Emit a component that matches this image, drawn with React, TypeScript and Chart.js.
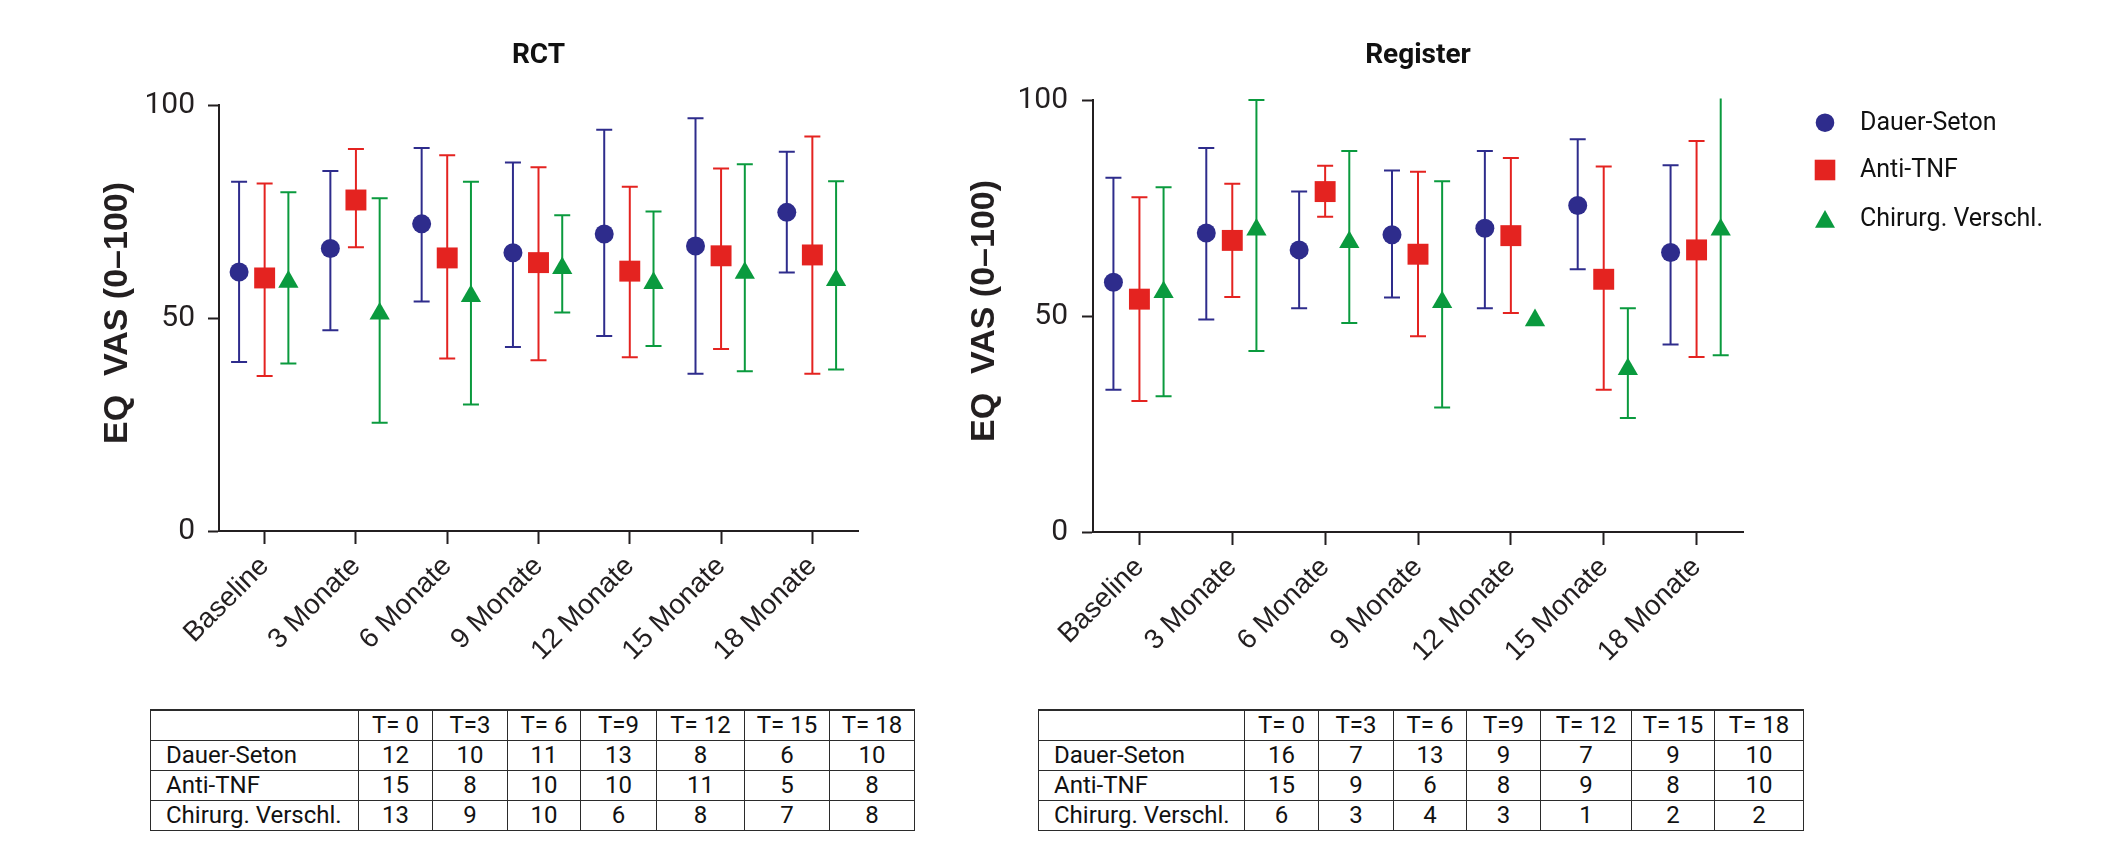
import React, { useEffect, useRef } from 'react';
import { Chart, registerables } from 'chart.js';

Chart.register(...registerables);

// ---------- data ----------
const categories = ['Baseline', '3 Monate', '6 Monate', '9 Monate', '12 Monate', '15 Monate', '18 Monate'];
const seriesNames = ['Dauer-Seton', 'Anti-TNF', 'Chirurg. Verschl.'];
const yTicks = [0, 50, 100];
const yAxisTitle = 'EQ  VAS (0–100)';
const tableHeaders = ['T= 0', 'T=3', 'T= 6', 'T=9', 'T= 12', 'T= 15', 'T= 18'];

// RCT
const rctDauerMean = [60.8, 66.3, 72.1, 65.3, 69.7, 66.9, 74.8];
const rctDauerLow = [39.7, 47.1, 53.9, 43.2, 45.8, 36.9, 60.7];
const rctDauerHigh = [82.0, 84.5, 89.9, 86.5, 94.2, 96.9, 89.0];
const rctAntiMean = [59.4, 77.7, 64.1, 63.0, 61.0, 64.6, 64.8];
const rctAntiLow = [36.4, 66.6, 40.5, 40.1, 40.8, 42.7, 36.9];
const rctAntiHigh = [81.6, 89.7, 88.2, 85.4, 80.8, 85.1, 92.6];
const rctChirMean = [58.5, 51.0, 55.1, 61.7, 58.2, 60.6, 58.9];
const rctChirLow = [39.3, 25.4, 29.7, 51.3, 43.4, 37.5, 37.9];
const rctChirHigh = [79.5, 78.1, 82.0, 74.1, 75.0, 86.1, 82.1];

// Register
const regDauerMean = [57.8, 69.2, 65.3, 68.8, 70.3, 75.6, 64.7];
const regDauerLow = [32.9, 49.2, 51.8, 54.3, 51.8, 60.8, 43.4];
const regDauerHigh = [82.0, 88.9, 78.8, 83.7, 88.2, 90.9, 84.9];
const regAntiMean = [53.9, 67.5, 78.8, 64.3, 68.6, 58.5, 65.3];
const regAntiLow = [30.3, 54.4, 73.0, 45.3, 50.7, 32.9, 40.5];
const regAntiHigh = [77.5, 80.6, 84.8, 83.4, 86.6, 84.6, 90.5];
const regChirMean = [55.5, 70.0, 67.1, 53.2, 49.0, 37.7, 70.0];
const regChirLow = [31.4, 41.9, 48.4, 28.8, null, 26.4, 40.9];
const regChirHigh = [79.8, 100, 88.2, 81.2, null, 51.8, 103];

// n per group (tables)
const rctDauerN = [12, 10, 11, 13, 8, 6, 10];
const rctAntiN = [15, 8, 10, 10, 11, 5, 8];
const rctChirN = [13, 9, 10, 6, 8, 7, 8];
const regDauerN = [16, 7, 13, 9, 7, 9, 10];
const regAntiN = [15, 9, 6, 8, 9, 8, 10];
const regChirN = [6, 3, 4, 3, 1, 2, 2];

// ---------- styles ----------
const INK = '#231f20';
const COLORS = ['#2e2c8c', '#e42320', '#0a9a3e'];
const POINT_STYLES = ['circle', 'rect', 'triangle'];
const POINT_RADII = [9.5, 14.8, 11.7];
const X_OFFSETS = [-0.28, 0, 0.26];

const errorBarPlugin = {
  id: 'errorBars',
  beforeDatasetsDraw(chart: any) {
    const ctx = chart.ctx;
    const ys = chart.scales.y;
    const area = chart.chartArea;
    ctx.save();
    ctx.beginPath();
    ctx.rect(area.left, area.top - 1.5, area.right - area.left, area.bottom - area.top + 3);
    ctx.clip();
    chart.data.datasets.forEach((ds: any, di: number) => {
      const meta = chart.getDatasetMeta(di);
      meta.data.forEach((pt: any, i: number) => {
        const lo = ds.low[i];
        const hi = ds.high[i];
        if (lo == null || hi == null) return;
        const x = pt.x;
        const y1 = ys.getPixelForValue(lo);
        const y2 = ys.getPixelForValue(hi);
        ctx.strokeStyle = ds.borderColor;
        ctx.lineWidth = 2;
        ctx.beginPath();
        ctx.moveTo(x, y1);
        ctx.lineTo(x, y2);
        ctx.moveTo(x - 8, y1);
        ctx.lineTo(x + 8, y1);
        ctx.moveTo(x - 8, y2);
        ctx.lineTo(x + 8, y2);
        ctx.stroke();
      });
    });
    ctx.restore();
  },
};

// titles (chart title centred over the plot area, rotated y-axis title)
const titlesPlugin = {
  id: 'panelTitles',
  afterDraw(chart: any) {
    const o = chart.options.plugins.panelTitles;
    const ctx = chart.ctx;
    const area = chart.chartArea;
    ctx.save();
    ctx.fillStyle = '#111';
    ctx.font = 'bold 28px Roboto, sans-serif';
    ctx.textAlign = 'center';
    ctx.textBaseline = 'alphabetic';
    ctx.fillText(o.title, (area.left + area.right) / 2, area.top - o.titleGap);
    ctx.translate(area.left - o.yTitleGap, (area.top + area.bottom) / 2 - 5);
    ctx.rotate(-Math.PI / 2);
    ctx.fillStyle = INK;
    ctx.font = "bold 34px 'Liberation Sans', Arial, sans-serif";
    ctx.textBaseline = 'middle';
    ctx.fillText(yAxisTitle, 0, 0);
    ctx.restore();
  },
};

const legendPlugin = {
  id: 'sideLegend',
  afterDraw(chart: any) {
    if (!chart.options.plugins.sideLegend?.show) return;
    const ctx = chart.ctx;
    const area = chart.chartArea;
    const mx = area.right + 82;
    const tx = area.right + 117;
    const rowsY = [area.top + 22.7, area.top + 70, area.top + 119];
    ctx.save();
    chart.data.datasets.forEach((ds: any, i: number) => {
      const y = rowsY[i];
      ctx.fillStyle = ds.backgroundColor;
      ctx.beginPath();
      if (ds.pointStyle === 'circle') {
        ctx.arc(mx, y, 9.3, 0, Math.PI * 2);
      } else if (ds.pointStyle === 'rect') {
        ctx.rect(mx - 10.3, y - 10.3, 20.6, 20.6);
      } else {
        ctx.moveTo(mx, y - 9);
        ctx.lineTo(mx + 10, y + 8.7);
        ctx.lineTo(mx - 10, y + 8.7);
        ctx.closePath();
      }
      ctx.fill();
      ctx.fillStyle = '#111';
      ctx.font = '400 25px Roboto, sans-serif';
      ctx.textBaseline = 'middle';
      ctx.textAlign = 'left';
      ctx.fillText(ds.label, tx, y + 1);
    });
    ctx.restore();
  },
};

function buildDatasets(means: number[][], lows: any[][], highs: any[][]) {
  return seriesNames.map((name, s) => ({
    label: name,
    data: categories.map((_, i) => ({ x: i + X_OFFSETS[s], y: means[s][i] })),
    low: lows[s],
    high: highs[s],
    pointStyle: POINT_STYLES[s],
    pointRadius: POINT_RADII[s],
    pointHoverRadius: POINT_RADII[s],
    backgroundColor: COLORS[s],
    borderColor: COLORS[s],
    pointBorderWidth: 0,
    borderWidth: 0,
    showLine: false,
  }));
}

interface PanelProps {
  title: string;
  left: number;
  width: number;
  height: number;
  yWidth: number;
  rightPad: number;
  topPx: number;
  bottomPx: number;
  titleGap: number;
  yTitleGap: number;
  yTickPad: number;
  showLegend: boolean;
  means: number[][];
  lows: any[][];
  highs: any[][];
}

function Panel(p: PanelProps) {
  const ref = useRef<HTMLCanvasElement>(null);
  useEffect(() => {
    if (!ref.current) return;
    const chart = new Chart(ref.current, {
      type: 'scatter',
      data: { datasets: buildDatasets(p.means, p.lows, p.highs) as any },
      plugins: [errorBarPlugin, titlesPlugin, legendPlugin],
      options: {
        responsive: false,
        animation: false,
        events: [],
        layout: { padding: { left: 0, right: p.rightPad, top: p.topPx, bottom: 0 } },
        plugins: {
          legend: { display: false },
          tooltip: { enabled: false },
          title: { display: false },
          panelTitles: { title: p.title, titleGap: p.titleGap, yTitleGap: p.yTitleGap },
          sideLegend: { show: p.showLegend },
        } as any,
        scales: {
          x: {
            type: 'linear',
            min: -0.5,
            max: 6.5,
            afterBuildTicks: (s: any) => {
              s.ticks = categories.map((_, i) => ({ value: i }));
            },
            afterFit: (s: any) => {
              s.height = p.height - p.bottomPx;
            },
            ticks: {
              autoSkip: false,
              minRotation: 45,
              maxRotation: 45,
              padding: 6,
              color: INK,
              font: { family: "'Liberation Sans', Arial, sans-serif", size: 28 },
              callback: (v: any) => categories[Math.round(Number(v))] ?? '',
            },
            grid: { drawOnChartArea: false, drawTicks: true, tickLength: 13, tickWidth: 2, tickColor: INK },
            border: { display: true, color: INK, width: 2 },
          },
          y: {
            min: 0,
            max: 100,
            afterBuildTicks: (s: any) => {
              s.ticks = yTicks.map((v) => ({ value: v }));
            },
            afterFit: (s: any) => {
              s.width = p.yWidth;
            },
            ticks: {
              padding: p.yTickPad,
              color: INK,
              font: { family: 'Roboto, sans-serif', size: 30, weight: '400' },
            },
            grid: { drawOnChartArea: false, drawTicks: true, tickLength: 11, tickWidth: 2, tickColor: INK },
            border: { display: true, color: INK, width: 2 },
          },
        },
      } as any,
    });
    return () => chart.destroy();
  }, []);
  return (
    <canvas
      ref={ref}
      width={p.width}
      height={p.height}
      style={{ position: 'absolute', left: p.left, top: 0, width: p.width, height: p.height }}
    />
  );
}

function CountTable({ left, widths, rows }: { left: number; widths: number[]; rows: number[][] }) {
  const total = widths.reduce((a, b) => a + b, 0);
  const cell: React.CSSProperties = {
    border: '1.5px solid #2b2b2b',
    padding: 0,
    height: 29,
    lineHeight: '29px',
    textAlign: 'center',
    whiteSpace: 'nowrap',
    overflow: 'hidden',
  };
  return (
    <table
      style={{
        position: 'absolute',
        left,
        top: 709,
        width: total,
        borderCollapse: 'collapse',
        tableLayout: 'fixed',
        fontFamily: 'Roboto, sans-serif',
        fontSize: 24,
        color: '#111',
        borderTop: '2.5px solid #2b2b2b',
      }}
    >
      <colgroup>
        {widths.map((w, i) => (
          <col key={i} style={{ width: w }} />
        ))}
      </colgroup>
      <tbody>
        <tr>
          <td style={cell}></td>
          {tableHeaders.map((h, i) => (
            <td key={i} style={cell}>{h}</td>
          ))}
        </tr>
        {rows.map((r, ri) => (
          <tr key={ri}>
            <td style={{ ...cell, textAlign: 'left', paddingLeft: 15 }}>{seriesNames[ri]}</td>
            {r.map((v, i) => (
              <td key={i} style={cell}>{v}</td>
            ))}
          </tr>
        ))}
      </tbody>
    </table>
  );
}

export default function App() {
  return (
    <div style={{ position: 'absolute', left: 0, top: 0, width: 2108, height: 867, background: '#fff' }}>
      <Panel
        title="RCT"
        left={0}
        width={900}
        height={700}
        yWidth={219}
        rightPad={42}
        topPx={105}
        bottomPx={531}
        titleGap={42}
        yTitleGap={101}
        yTickPad={13}
        showLegend={false}
        means={[rctDauerMean, rctAntiMean, rctChirMean]}
        lows={[rctDauerLow, rctAntiLow, rctChirLow]}
        highs={[rctDauerHigh, rctAntiHigh, rctChirHigh]}
      />
      <Panel
        title="Register"
        left={900}
        width={1208}
        height={700}
        yWidth={193}
        rightPad={365}
        topPx={100}
        bottomPx={532}
        titleGap={37}
        yTitleGap={108}
        yTickPad={14}
        showLegend={true}
        means={[regDauerMean, regAntiMean, regChirMean]}
        lows={[regDauerLow, regAntiLow, regChirLow]}
        highs={[regDauerHigh, regAntiHigh, regChirHigh]}
      />
      <CountTable left={150} widths={[208, 74, 75, 73, 76, 88, 85, 85]} rows={[rctDauerN, rctAntiN, rctChirN]} />
      <CountTable left={1038} widths={[206, 74, 75, 73, 74, 91, 83, 89]} rows={[regDauerN, regAntiN, regChirN]} />
    </div>
  );
}
